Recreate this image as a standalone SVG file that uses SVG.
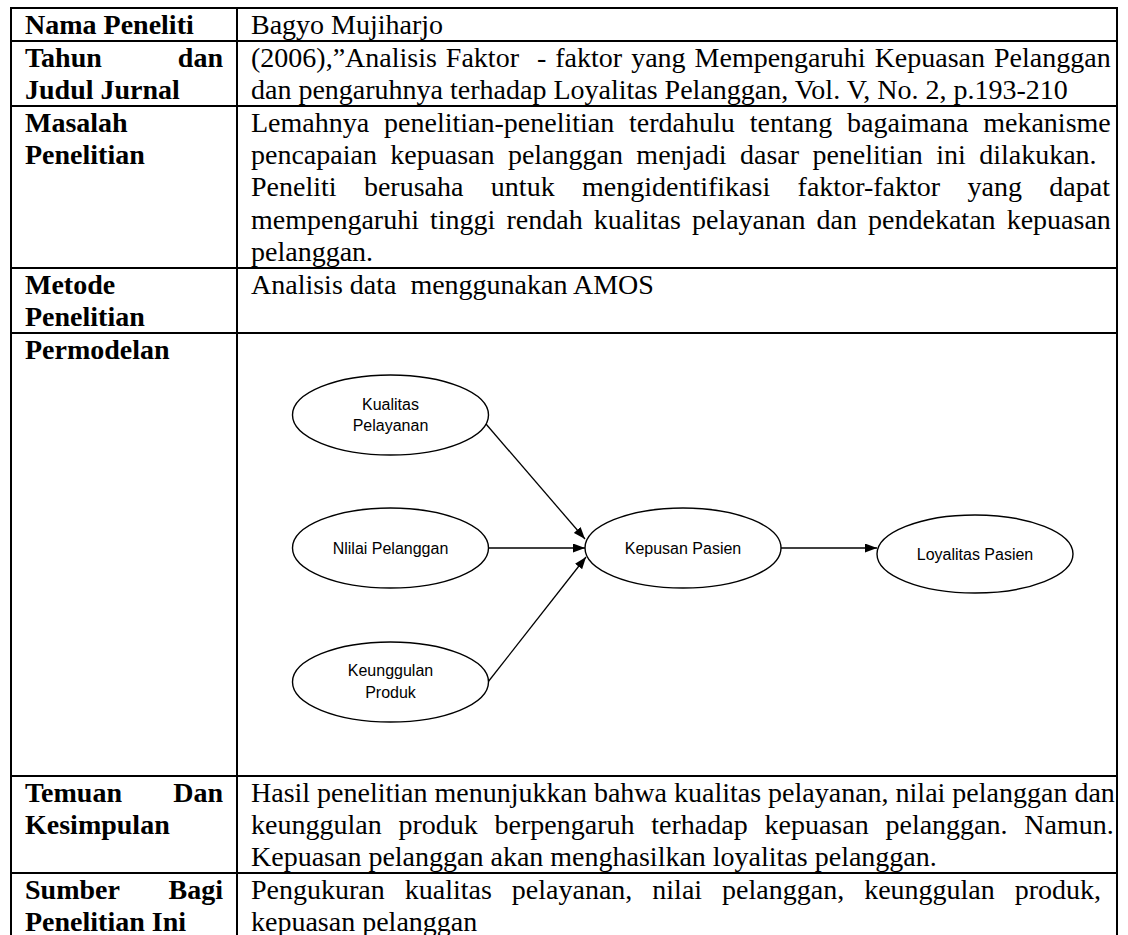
<svg xmlns="http://www.w3.org/2000/svg" width="1128" height="935" viewBox="0 0 1128 935">
  <defs>
    <marker id="ah" markerUnits="userSpaceOnUse" markerWidth="12" markerHeight="9" refX="12" refY="4.5" orient="auto">
      <path d="M0,0 L12,4.5 L0,9 z" fill="#000"/>
    </marker>
  </defs>
  <style>
    .lbl{font:bold 28px "Liberation Serif","Times New Roman",serif;fill:#000}
    .lbl .r{text-anchor:end}
    .txt{font:28px "Liberation Serif","Times New Roman",serif;fill:#000}
    .grid line{stroke:#000;stroke-width:2}
    .node ellipse{fill:#fff;stroke:#000;stroke-width:1.4}
    .node text{font:16px "Liberation Sans",Arial,sans-serif;fill:#000;text-anchor:middle}
    .edges line{stroke:#000;stroke-width:1.3;marker-end:url(#ah)}
  </style>
  <rect width="1128" height="935" fill="#fff"/>

  <!-- table grid -->
  <g id="grid" class="grid">
    <line x1="11" y1="8" x2="1117" y2="8"/>
    <line x1="11" y1="41" x2="1117" y2="41"/>
    <line x1="11" y1="106" x2="1117" y2="106"/>
    <line x1="11" y1="268" x2="1117" y2="268"/>
    <line x1="11" y1="333" x2="1117" y2="333"/>
    <line x1="11" y1="776" x2="1117" y2="776"/>
    <line x1="11" y1="873" x2="1117" y2="873"/>
    <line x1="11" y1="7" x2="11" y2="935"/>
    <line x1="237" y1="7" x2="237" y2="935"/>
    <line x1="1117" y1="7" x2="1117" y2="935"/>
  </g>

  <!-- row labels -->
  <g id="labels" class="lbl">
    <text x="25" y="34">Nama Peneliti</text>
    <text x="25" y="67">Tahun</text><text class="r" x="223" y="67">dan</text>
    <text x="25" y="99">Judul Jurnal</text>
    <text x="25" y="132">Masalah</text>
    <text x="25" y="164">Penelitian</text>
    <text x="25" y="294">Metode</text>
    <text x="25" y="326">Penelitian</text>
    <text x="25" y="359">Permodelan</text>
    <text x="25" y="802">Temuan</text><text class="r" x="223" y="802">Dan</text>
    <text x="25" y="834">Kesimpulan</text>
    <text x="25" y="899">Sumber</text><text class="r" x="223" y="899">Bagi</text>
    <text x="25" y="931">Penelitian Ini</text>
  </g>

  <!-- row contents -->
  <g id="contents" class="txt">
    <text x="251" y="34">Bagyo Mujiharjo</text>
    <text x="251" y="67" style="word-spacing:2px">(2006),”Analisis Faktor&#160; - faktor yang Mempengaruhi Kepuasan Pelanggan</text>
    <text x="251" y="99">dan pengaruhnya terhadap Loyalitas Pelanggan, Vol. V, No. 2, p.193-210</text>
    <text x="251" y="132" style="word-spacing:7.9px">Lemahnya penelitian-penelitian terdahulu tentang bagaimana mekanisme</text>
    <text x="251" y="164" style="word-spacing:6.4px">pencapaian kepuasan pelanggan menjadi dasar penelitian ini dilakukan.</text>
    <text x="251" y="196" style="word-spacing:20.4px">Peneliti berusaha untuk mengidentifikasi faktor-faktor yang dapat</text>
    <text x="251" y="229" style="word-spacing:4.1px">mempengaruhi tinggi rendah kualitas pelayanan dan pendekatan kepuasan</text>
    <text x="251" y="261">pelanggan.</text>
    <text x="251" y="294">Analisis data&#160; menggunakan AMOS</text>
    <text x="251" y="802">Hasil penelitian menunjukkan bahwa kualitas pelayanan, nilai pelanggan dan</text>
    <text x="251" y="834" style="word-spacing:9.8px">keunggulan produk berpengaruh terhadap kepuasan pelanggan. Namun.</text>
    <text x="251" y="866">Kepuasan pelanggan akan menghasilkan loyalitas pelanggan.</text>
    <text x="251" y="899" style="word-spacing:13px">Pengukuran kualitas pelayanan, nilai pelanggan, keunggulan produk,</text>
    <text x="251" y="931">kepuasan pelanggan</text>
  </g>

  <!-- path model -->
  <g id="edges" class="edges">
    <line x1="486" y1="424" x2="585" y2="539"/>
    <line x1="488.5" y1="548" x2="585" y2="548"/>
    <line x1="488" y1="682" x2="586" y2="557"/>
    <line x1="781" y1="548" x2="877" y2="548"/>
  </g>

  <g id="kualitas-pelayanan" class="node">
    <ellipse cx="390.5" cy="415" rx="98" ry="40"/>
    <text x="390.5" y="410">Kualitas</text>
    <text x="390.5" y="431">Pelayanan</text>
  </g>
  <g id="nilai-pelanggan" class="node">
    <ellipse cx="390.5" cy="548" rx="98" ry="40"/>
    <text x="390.5" y="554">Nlilai Pelanggan</text>
  </g>
  <g id="keunggulan-produk" class="node">
    <ellipse cx="390.5" cy="682" rx="98" ry="40"/>
    <text x="390.5" y="676">Keunggulan</text>
    <text x="390.5" y="698">Produk</text>
  </g>
  <g id="kepuasan-pasien" class="node">
    <ellipse cx="683" cy="548" rx="98" ry="40"/>
    <text x="683" y="554">Kepusan Pasien</text>
  </g>
  <g id="loyalitas-pasien" class="node">
    <ellipse cx="975" cy="554" rx="98" ry="39"/>
    <text x="975" y="560">Loyalitas Pasien</text>
  </g>
</svg>
